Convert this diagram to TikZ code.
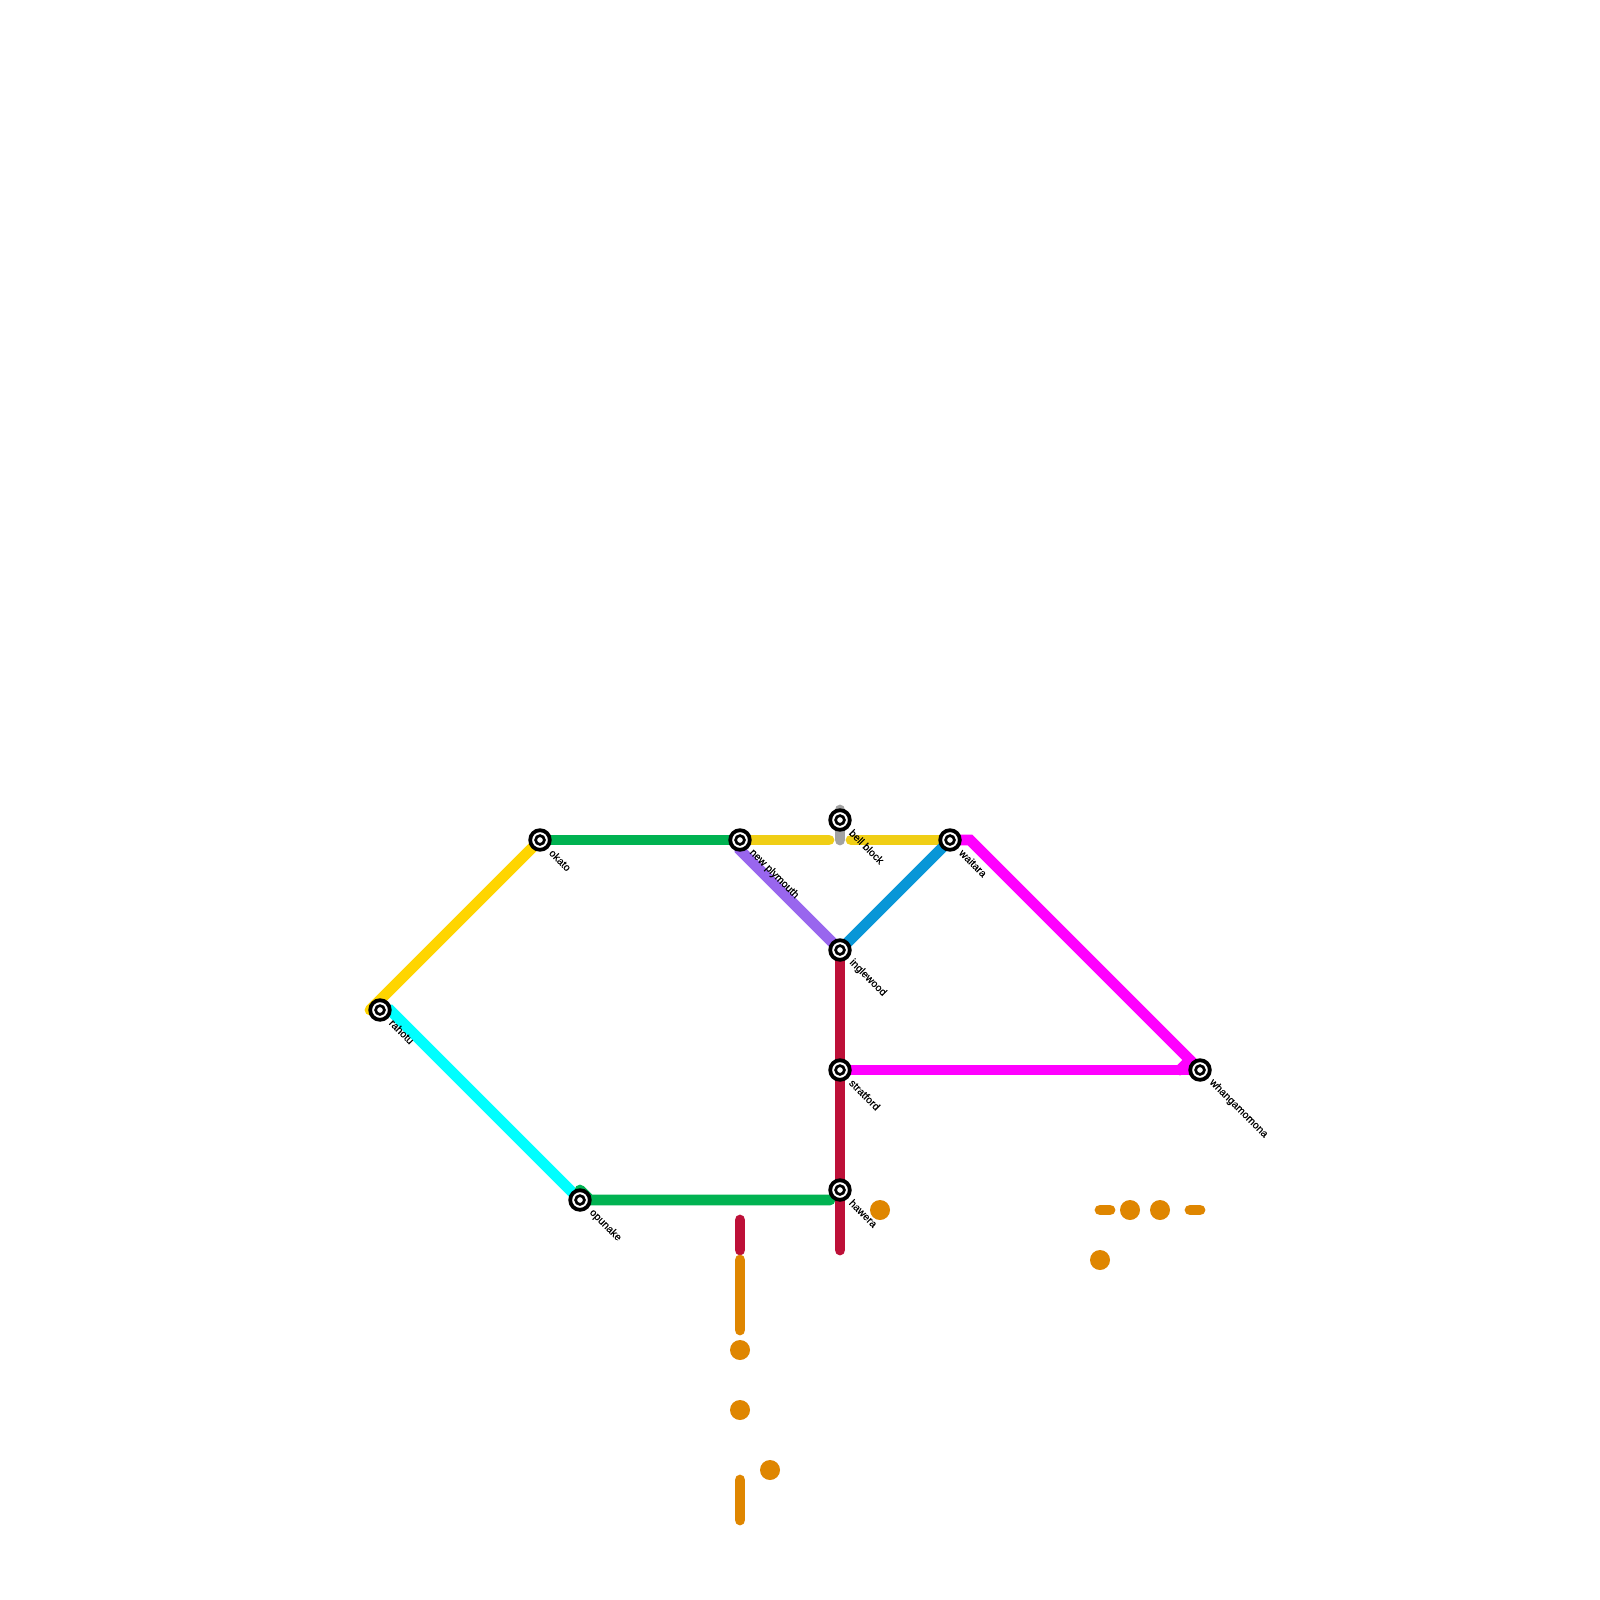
\documentclass[tikz,border=0pt]{standalone}
\usepackage{fontspec}
\setmainfont[FakeBold=0.4]{Liberation Sans}
\usetikzlibrary{backgrounds}
\definecolor{cgreen}{HTML}{00B251}
\definecolor{cyellow}{HTML}{F0CE15}
\definecolor{cgold}{HTML}{FFD500}
\definecolor{ccyan}{HTML}{00FFFF}
\definecolor{cpurple}{HTML}{9966EE}
\definecolor{cblue}{HTML}{0896D7}
\definecolor{cmag}{HTML}{FF00FF}
\definecolor{ccrim}{HTML}{BD1038}
\definecolor{corange}{HTML}{DF8600}
\definecolor{cgray}{HTML}{A2A2A2}
\tikzset{
  station/.style={circle,draw=black,fill=white,line width=3.8pt,minimum size=19.6pt,inner sep=0pt,
    path picture={\draw[black,line width=2.7pt] (path picture bounding box.center) circle (4.4);}},
  stationlabel/.style={rotate=-45,anchor=west,inner sep=0pt,font=\fontsize{10.5}{11}\selectfont,text=black},
  metro/.style={line width=10.8pt,line cap=round,line join=miter},
  dot/.style={circle,fill=corange,minimum size=20pt,inner sep=0pt},
}
\begin{document}
\begin{tikzpicture}[x=1pt,y=-1pt]
\useasboundingbox (0,0) rectangle (1600,1600);
% stations
\node[station] (newplymouth) at (740,840) {};
\node[station] (bellblock) at (840,820) {};
\node[station] (waitara) at (950,840) {};
\node[station] (inglewood) at (840,950) {};
\node[station] (stratford) at (840,1070) {};
\node[station] (hawera) at (840,1190) {};
\node[station] (whangamomona) at (1200,1070) {};
\node[station] (okato) at (540,840) {};
\node[station] (rahotu) at (380,1010) {};
\node[station] (opunake) at (580,1200) {};
% labels
\node[stationlabel] (lnewplymouth) at (751,851) {new plymouth};
\node[stationlabel] (lbellblock) at (851,831) {bell block};
\node[stationlabel] (lwaitara) at (961,851) {waitara};
\node[stationlabel] (linglewood) at (851,961) {inglewood};
\node[stationlabel] (lstratford) at (851,1081) {stratford};
\node[stationlabel] (lhawera) at (851,1201) {hawera};
\node[stationlabel] (lwhangamomona) at (1211,1081) {whangamomona};
\node[stationlabel] (lokato) at (551,851) {okato};
\node[stationlabel] (lrahotu) at (391,1021) {rahotu};
\node[stationlabel] (lopunake) at (591,1211) {opunake};
% free dots
\node[dot] (d1) at (880,1210) {};
\node[dot] (d2) at (1130,1210) {};
\node[dot] (d3) at (1160,1210) {};
\node[dot] (d4) at (1100,1260) {};
\node[dot] (d5) at (740,1350) {};
\node[dot] (d6) at (740,1410) {};
\node[dot] (d7) at (770,1470) {};
% free ends
\coordinate (yA) at (829,840);
\coordinate (yB) at (851,840);
\coordinate (gT) at (840,810);
\coordinate (gB) at (840,840);
\coordinate (mA) at (970,840);
\coordinate (mB) at (1180,1070);
\coordinate (mC) at (1190,1060);
\coordinate (goldA) at (370,1010);
\coordinate (cyA) at (390,1010);
\coordinate (grA) at (580,1190);
\coordinate (grB) at (590,1200);
\coordinate (grC) at (830,1200);
\coordinate (puA) at (740,850);
\coordinate (rE) at (840,1250);
\coordinate (r2A) at (740,1220);
\coordinate (r2B) at (740,1250);
\coordinate (oA) at (740,1260);
\coordinate (oB) at (740,1330);
\coordinate (oC) at (740,1480);
\coordinate (oD) at (740,1520);
\coordinate (oE) at (1100,1210);
\coordinate (oF) at (1110,1210);
\coordinate (oG) at (1190,1210);
\coordinate (oH) at (1200,1210);
\begin{pgfonlayer}{background}
\fill[white] (0,0) rectangle (1600,1600);
\draw[metro,cgray] (gT) -- (gB);
\draw[metro,cyellow] (newplymouth.center) -- (yA);
\draw[metro,cyellow] (yB) -- (waitara.center);
\draw[metro,cgreen] (okato.center) -- (newplymouth.center);
\draw[metro,cgold] (okato.center) -- (goldA);
\draw[metro,ccyan] (rahotu.center) -- (cyA) -- (opunake.center);
\draw[metro,cgreen] (grA) -- (grB) -- (grC);
\draw[metro,cpurple] (newplymouth.center) -- (puA) -- (inglewood.center);
\draw[metro,cblue] (inglewood.center) -- (waitara.center);
\draw[metro,cmag] (waitara.center) -- (mA) -- (whangamomona.center);
\draw[metro,cmag] (stratford.center) -- (whangamomona.center);
\draw[metro,cmag] (mB) -- (mC);
\draw[metro,ccrim] (inglewood.center) -- (stratford.center) -- (hawera.center) -- (rE);
\draw[metro,ccrim] (r2A) -- (r2B);
\draw[metro,corange] (oA) -- (oB);
\draw[metro,corange] (oC) -- (oD);
\draw[metro,corange] (oE) -- (oF);
\draw[metro,corange] (oG) -- (oH);
\end{pgfonlayer}
\end{tikzpicture}
\end{document}
